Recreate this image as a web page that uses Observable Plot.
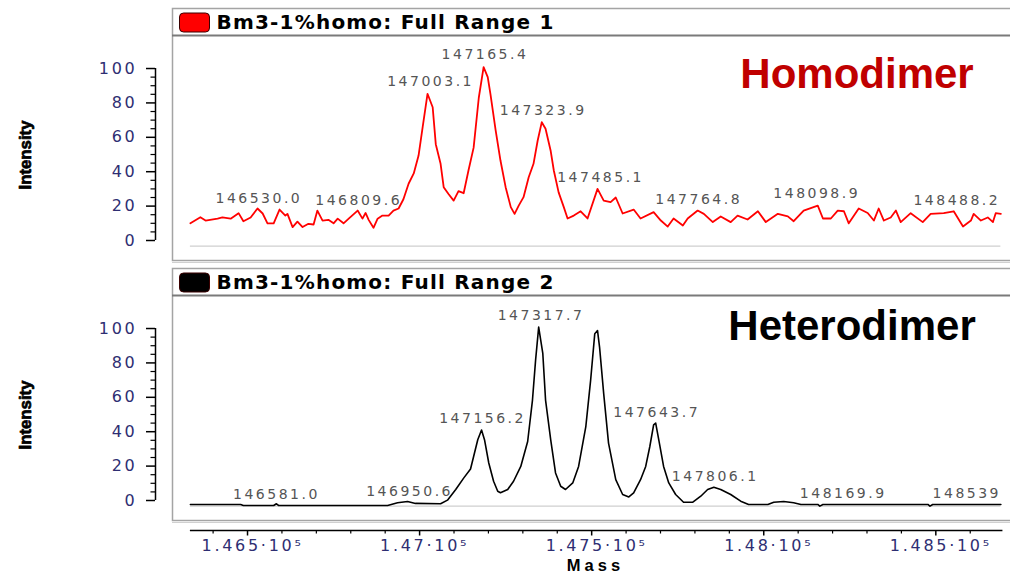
<!DOCTYPE html>
<html>
<head>
<meta charset="utf-8">
<script src="https://cdn.jsdelivr.net/npm/d3@7"></script>
<script src="https://cdn.jsdelivr.net/npm/@observablehq/plot@0.6"></script>
<style>
html, body { margin: 0; padding: 0; background: #fff; }
#chart { width: 1010px; height: 574px; overflow: hidden; }
g[font-size="14"] text, g[font-size="14px"] text { letter-spacing: 2.5px; }
g[font-size="16"] text, g[font-size="16px"] text { letter-spacing: 2.7px; }
g[font-size="20"] text, g[font-size="20px"] text { letter-spacing: 1.2px; }
g[font-size="16.5"] text, g[font-size="16.5px"] text { letter-spacing: 4px; }
</style>
</head>
<body>
<div id="chart"></div>
<script>
// ---------- data ----------
const panels = ["Homodimer", "Heterodimer"];
const panelColors = ["#ff0000", "#000000"];
const panelTitles = ["Bm3-1%homo: Full Range 1", "Bm3-1%homo: Full Range 2"];
const annotationColors = ["#c00000", "#000000"];
const annotationMass = [148610, 148616];
const annotationIntensity = [96.6, 101.4];

const homoMass = [146334,146363,146378,146413,146427,146451,146474,146488,146509,146529,
  146544,146558,146576,146593,146610,146616,146631,146645,146660,146677,
  146692,146703,146718,146735,146750,146762,146779,146794,146820,146834,
  146843,146852,146866,146878,146892,146910,146924,146939,146953,146968,
  146983,146997,147009,147023,147038,147047,147061,147070,147084,147099,
  147113,147128,147142,147157,147172,147186,147198,147206,147221,147235,
  147250,147265,147276,147288,147302,147317,147331,147343,147355,147366,
  147381,147390,147404,147419,147430,147448,147468,147488,147517,147535,
  147555,147570,147590,147622,147642,147680,147701,147721,147738,147765,
  147779,147808,147826,147852,147875,147904,147924,147953,147983,148006,
  148041,148070,148087,148116,148157,148172,148195,148215,148233,148247,
  148276,148302,148320,148334,148349,148369,148384,148398,148427,148462,
  148485,148523,148552,148579,148602,148610,148631,148651,148666,148674,
  148689];
const homoIntensity = [10,13.5,11.6,12.7,13.4,12.7,15.9,11.2,13.4,18.6,
  15.7,10,10,18,14.5,15.5,7.8,11,7.8,9.7,
  9.3,17.4,11.6,12,10,12.7,10,12.7,17.4,12.7,
  16,12,7.4,12.7,14.5,14.5,17.4,18.6,24,33,
  39,49.4,66,85.3,77.5,56,44.6,31,27,23.2,
  28.7,27.5,40.7,54,83,100.8,95,85,64,46.5,
  31,19.4,15.5,20.3,25.2,36.8,44.6,58,68.8,65,
  52,40.7,28,19.4,12.8,14.5,17,12.8,30,23.2,
  22.3,25,15.7,18,12.8,16.5,11.6,8.1,12.8,8.7,
  12.8,17.4,15.5,10.7,14,10.7,14.5,12.2,17,10.7,
  15.5,14,11.2,17.4,20.3,12.8,12.8,17.4,17,10,
  18.6,16,11.6,18.6,11.6,13.4,17.4,10.7,15.9,10.7,
  15.5,15.9,17,8.1,11.6,15.5,11.6,13.4,10.7,15.9,
  15.5];

const heteroMass = [146334,146480,146488,146576,146584,146590,146907,146936,146965,146988,
  147061,147081,147105,147128,147148,147157,147169,147180,147189,147201,
  147215,147227,147235,147256,147273,147294,147314,147328,147337,147346,
  147358,147366,147381,147395,147410,147424,147445,147462,147483,147497,
  147509,147517,147523,147535,147549,147570,147590,147608,147622,147642,
  147657,147669,147680,147686,147695,147709,147724,147744,147767,147794,
  147817,147837,147855,147875,147904,147933,147956,148012,148029,148058,
  148087,148108,148157,148163,148172,148477,148483,148491,148689];
const heteroIntensity = [-2.3,-2.3,-2.9,-2.9,-1.9,-2.9,-2.9,-1.3,-0.6,-1.7,
  -1.9,0.2,6.4,13,18.3,25.6,35.3,41,35,21.8,
  11.2,5.4,4.5,6.4,11.2,19.8,34.3,58.4,81.5,100.8,
  85.5,58.4,35.3,16,8.3,6.4,10.2,19.8,43,70,
  97,98.8,89,62,33.4,12.1,3.5,2.1,4.4,12.1,
  19.8,31.4,44,45,35.3,19.8,10.2,3.5,-1,-1,
  2.5,6.4,7.7,6.4,3.5,-0.4,-2.3,-2.3,-1,-0.6,
  -1.3,-2.3,-2.3,-3.3,-2.3,-2.3,-3.3,-2.3,-2.3];

const homoLabels = ["146530.0","146809.6","147003.1","147165.4","147323.9","147485.1","147764.8","148098.9","148488.2"];
const homoLabelMass = [146533,146823,147032,147190,147359,147526,147811,148154,148561];
const homoLabelIntensity = [24.4,23.3,92.4,108.1,75.6,36.6,23.8,27.3,23.3];

const heteroLabels = ["146581.0","146950.6","147156.2","147317.7","147643.7","147806.1","148169.9","148539"];
const heteroLabelMass = [146584,146971,147183,147353,147689,147859,148231,148590];
const heteroLabelIntensity = [3.5,5.4,47.4,107.5,51,14,4,4];

const baselineIntensity = -3.3;

const yMajorTicks = [0, 20, 40, 60, 80, 100];
const yTickLabels = ["0", "20", "40", "60", "80", "100"];
const yMinorTicks = [5,10,15,25,30,35,45,50,55,65,70,75,85,90,95];
const xMajorTicks = [146500, 147000, 147500, 148000, 148500];
const xTickLabels = ["1.465·10⁵", "1.47·10⁵", "1.475·10⁵", "1.48·10⁵", "1.485·10⁵"];
const xMinorTicks = [146400,146600,146700,146800,146900,147100,147200,147300,147400,
  147600,147700,147800,147900,148100,148200,148300,148400,148600];

const xDomain = [146282, 148717];
const yDomain = [-11.63, 119.2];

// ---------- tables ----------
const homoRows = homoMass.map((m, i) => ({panel: panels[0], mass: m, intensity: homoIntensity[i]}));
const heteroRows = heteroMass.map((m, i) => ({panel: panels[1], mass: m, intensity: heteroIntensity[i]}));
const labelRows = [
  ...homoLabels.map((t, i) => ({panel: panels[0], text: t, mass: homoLabelMass[i], intensity: homoLabelIntensity[i]})),
  ...heteroLabels.map((t, i) => ({panel: panels[1], text: t, mass: heteroLabelMass[i], intensity: heteroLabelIntensity[i]}))
];
const panelRows = panels.map((p, i) => ({
  panel: p, color: panelColors[i], title: panelTitles[i],
  annColor: annotationColors[i], annMass: annotationMass[i], annIntensity: annotationIntensity[i]
}));
const massExtent = d3.extent([...homoMass, ...heteroMass]);

const navy = "#2e2e72";
const swatchSymbol = {
  draw(ctx) {
    const w = 15, h = 9.5, r = 4;
    ctx.moveTo(-w + r, -h);
    ctx.lineTo(w - r, -h); ctx.arcTo(w, -h, w, -h + r, r);
    ctx.lineTo(w, h - r); ctx.arcTo(w, h, w - r, h, r);
    ctx.lineTo(-w + r, h); ctx.arcTo(-w, h, -w, h - r, r);
    ctx.lineTo(-w, -h + r); ctx.arcTo(-w, -h, -w + r, -h, r);
    ctx.closePath();
  }
};

const chart = Plot.plot({
  width: 1010,
  height: 574,
  marginLeft: 172,
  marginRight: 0,
  marginTop: 35,
  marginBottom: 54,
  x: {domain: xDomain},
  y: {domain: yDomain},
  fy: {domain: panels, axis: null, paddingInner: 0.1346, paddingOuter: 0, round: false, label: null},
  marks: [
    // panel frames (including the header strip)
    Plot.frame({stroke: "#a4a4a4", strokeWidth: 1.5, insetTop: -27, insetRight: -4}),
    Plot.ruleY([yDomain[0]], {stroke: "#d0d0d0", strokeWidth: 1, dy: 2}),
    Plot.ruleY([yDomain[1]], {stroke: "#7a7a7a", strokeWidth: 2}),
    // light baseline
    Plot.ruleY([baselineIntensity], {x1: massExtent[0], x2: massExtent[1], stroke: "#cfcfcf", strokeWidth: 1.2}),
    // traces
    Plot.line(homoRows, {x: "mass", y: "intensity", fy: "panel", stroke: panelColors[0], strokeWidth: 1.8}),
    Plot.line(heteroRows, {x: "mass", y: "intensity", fy: "panel", stroke: panelColors[1], strokeWidth: 1.6}),
    // peak labels
    Plot.text(labelRows, {x: "mass", y: "intensity", fy: "panel", text: "text",
      fill: "#555", fontSize: 14, fontFamily: "DejaVu Sans"}),
    // big annotations
    Plot.text(panelRows, {x: "annMass", y: "annIntensity", fy: "panel", text: "panel",
      fill: "annColor", textAnchor: "end", fontSize: 42, fontWeight: "bold", fontFamily: "Liberation Sans"}),
    // header swatches and titles
    Plot.dot(panelRows, {fy: "panel", frameAnchor: "top-left", dx: 22, dy: -13,
      symbol: swatchSymbol, fill: "color", stroke: "#3a0000", strokeWidth: 1}),
    Plot.text(panelRows, {fy: "panel", text: "title", frameAnchor: "top-left", dx: 44, dy: -13,
      textAnchor: "start", lineAnchor: "middle", fontSize: 20, fontWeight: "bold", fontFamily: "DejaVu Sans", fill: "#000"}),
    // y axis (offset to the left of the frame)
    Plot.ruleX([xDomain[0]], {y1: 0, y2: 100, dx: -17, stroke: "#000", strokeWidth: 1.5}),
    Plot.axisY(yMajorTicks, {tickSize: 9, tickFormat: () => "", dx: -17, label: null, stroke: "#000", strokeWidth: 1.5}),
    Plot.axisY(yMinorTicks, {tickSize: 4.5, tickFormat: () => "", dx: -17, label: null, stroke: "#000", strokeWidth: 1.2}),
    Plot.axisY(yMajorTicks, {tickSize: 0, tickPadding: 18, dx: -17, label: null, color: navy,
      fontSize: 16, fontFamily: "DejaVu Sans", tickFormat: d => yTickLabels[yMajorTicks.indexOf(d)]}),
    Plot.text(panelRows, {fy: "panel", text: () => "Intensity", frameAnchor: "left", dx: -147, dy: 7,
      textAnchor: "middle", lineAnchor: "middle", rotate: -90, fontSize: 16.8, fontWeight: "bold",
      fontFamily: "Liberation Sans Narrow, Liberation Sans", fill: "#000", stroke: "#000", strokeWidth: 0.7}),
    // x axis (below the bottom panel)
    Plot.ruleY([panels[1]], {y: () => yDomain[0], fy: d => d, x1: massExtent[0], x2: massExtent[1] + 6, dy: 10, stroke: "#000", strokeWidth: 1.5}),
    Plot.axisX(xMinorTicks, {tickSize: 3.5, tickFormat: () => "", dy: 10, label: null, stroke: "#000", strokeWidth: 1.2}),
    Plot.axisX(xMajorTicks, {tickSize: 5.5, tickFormat: () => "", dy: 10, label: null, stroke: "#000", strokeWidth: 1.5}),
    Plot.axisX(xMajorTicks, {tickSize: 0, tickPadding: 9, dy: 10, dx: 5, label: null, color: navy,
      fontSize: 16, fontFamily: "DejaVu Sans", tickFormat: d => xTickLabels[xMajorTicks.indexOf(d)]}),
    Plot.text([panels[1]], {fy: d => d, text: () => "Mass", frameAnchor: "bottom", dx: 4, dy: 45,
      textAnchor: "middle", lineAnchor: "middle",
      fontSize: 16.5, fontWeight: "bold", fontFamily: "Liberation Sans", fill: "#000"})
  ]
});
document.getElementById("chart").appendChild(chart);
</script>
</body>
</html>
